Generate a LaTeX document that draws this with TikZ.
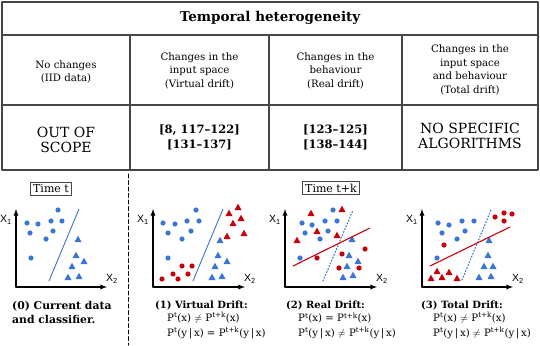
\documentclass[tikz,border=0pt]{standalone}
\usepackage{fontspec}
\setmainfont{DejaVu Serif}
\setsansfont{Liberation Sans}
\usetikzlibrary{positioning}
\definecolor{ptblue}{RGB}{58,118,214}
\definecolor{ptred}{RGB}{200,0,12}
\definecolor{rule}{RGB}{70,70,70}
\begin{document}
\begin{tikzpicture}[x=1pt,y=-1pt,>=latex,line join=round,line cap=round,
	every node/.style={inner sep=0pt},
	cell/.style={align=center,font=\fontsize{10.2}{13.5}\selectfont},
	big/.style={align=center,font=\fontsize{14}{15}\selectfont},
	refs/.style={align=center,font=\fontsize{11.5}{15}\selectfont\bfseries},
	timebox/.style={draw=rule,line width=0.6pt,inner sep=2.5pt,font=\fontsize{11}{12}\selectfont},
	caption/.style={anchor=west,font=\fontsize{10}{14}\selectfont\bfseries,align=left},
	formula/.style={anchor=west,font=\fontsize{10.2}{12}\selectfont},
	axis/.style={->,line width=1.3pt},
	axlabel/.style={font=\fontsize{10.5}{12}\selectfont\sffamily}]
	\useasboundingbox (0,0) rectangle (540,345);
	% table
	\draw[rule,line width=1.3pt] (2,2) rectangle (538,170);
	\draw[rule,line width=1.1pt] (2,35) -- (538,35) (2,105) -- (538,105);
	\foreach \cx in {130,269,402} \draw[rule,line width=1.1pt] (\cx,35) -- (\cx,170);
	\node[font=\fontsize{13.5}{14}\selectfont\bfseries] (title) at (270,18) {Temporal heterogeneity};
	\node[cell] (nochange) at (66,72) {No changes\\(IID data)};
	\node[cell] (virtual) at (199.5,70.5) {Changes in the\\input space\\(Virtual drift)};
	\node[cell] (real) at (335.5,70.5) {Changes in the\\behaviour\\(Real drift)};
	\node[cell] (total) at (470,70) {Changes in the\\input space\\and behaviour\\(Total drift)};
	\node[big] (scope) at (66,139.5) {OUT OF\\SCOPE};
	\node[refs] (refsA) at (199.5,137.5) {[8, 117--122]\\{}[131--137]};
	\node[refs] (refsB) at (335.5,137.5) {[123--125]\\{}[138--144]};
	\node[big] (nospec) at (470,135.5) {NO SPECIFIC\\ALGORITHMS};
	% time labels and separator
	\node[timebox] (timeA) at (51,189) {Time t};
	\node[timebox] (timeB) at (331,188) {Time t+k};
	\draw[line width=1pt,dash pattern=on 4pt off 2.5pt] (128,174) -- (128,345);
	% axes
	\foreach \ox/\rx in {16/107,153/245,285/377,422/513}{
		\draw[axis] (\ox,287) -- (\ox,209);
		\draw[axis] (\ox,287) -- (\rx,287);
		\node[axlabel] at (\ox-10,220) {X\textsubscript{1}};
		\node[axlabel] at (\rx+5,279) {X\textsubscript{2}};
	}
	% (0) current data
	\foreach \px/\py in {27/223,38/224,51/221,62/221,58/210,30/233,53/231,46/239,31/258}
		\fill[ptblue] (\px,\py) circle (2.6);
	\foreach \px/\py in {78/239,76/255,84/261,72/266,68/277,79/276}
		\fill[ptblue] (\px,\py) ++(-3.5,3) -- ++(7,0) -- ++(-3.5,-6.3) -- cycle;
	\draw[ptblue,line width=0.9pt] (49,281) -- (79,209);
	% (1) virtual drift
	\foreach \px/\py in {163/223,175/224,187/221,199/221,196/210,168/233,191/231,182/239,168/258}
		\fill[ptblue] (\px,\py) circle (2.6);
	\foreach \px/\py in {162/279,173/274,178/279,182/266,192/266,188/274}
		\fill[ptred] (\px,\py) circle (2.6);
	\foreach \px/\py in {220/240,218/255,227/261,215/266,212/277,222/276}
		\fill[ptblue] (\px,\py) ++(-3.5,3) -- ++(7,0) -- ++(-3.5,-6.3) -- cycle;
	\foreach \px/\py in {229/213,238/207,233/223,241/218,227/236,244/233}
		\fill[ptred] (\px,\py) ++(-3.5,3) -- ++(7,0) -- ++(-3.5,-6.3) -- cycle;
	\draw[ptblue,line width=0.9pt] (193,281) -- (223,209);
	% (2) real drift
	\foreach \px/\py in {302/223,312/225,325/221,337/221,333/210,305/233,328/231,320/239,300/258}
		\fill[ptblue] (\px,\py) circle (2.6);
	\foreach \px/\py in {317/258,342/254,365/249,339/268,359/268}
		\fill[ptred] (\px,\py) circle (2.6);
	\foreach \px/\py in {311/213,342/209,317/231,297/240,337/235}
		\fill[ptred] (\px,\py) ++(-3.5,3) -- ++(7,0) -- ++(-3.5,-6.3) -- cycle;
	\foreach \px/\py in {352/239,349/255,358/261,347/266,343/277,353/275}
		\fill[ptblue] (\px,\py) ++(-3.5,3) -- ++(7,0) -- ++(-3.5,-6.3) -- cycle;
	\draw[ptblue,line width=1.1pt,dotted] (323,281) -- (353,210);
	\draw[ptred,line width=1.1pt] (293,266) -- (370,228);
	% (3) total drift
	\foreach \px/\py in {438/223,449/225,462/221,474/221,442/233,465/231,457/239,437/258}
		\fill[ptblue] (\px,\py) circle (2.6);
	\foreach \px/\py in {495/217,504/213,512/214,504/221,444/245}
		\fill[ptred] (\px,\py) circle (2.6);
	\foreach \px/\py in {437/271,431/278,442/277,449/272,457/278}
		\fill[ptred] (\px,\py) ++(-3.5,3) -- ++(7,0) -- ++(-3.5,-6.3) -- cycle;
	\foreach \px/\py in {489/240,488/255,484/266,493/266,479/277,491/276}
		\fill[ptblue] (\px,\py) ++(-3.5,3) -- ++(7,0) -- ++(-3.5,-6.3) -- cycle;
	\draw[ptblue,line width=1.1pt,dotted] (462,280) -- (491,210);
	\draw[ptred,line width=1.1pt] (430,266) -- (510,227);
	% captions
	\node[caption,font=\fontsize{10.8}{14}\selectfont\bfseries] (capA) at (12,312) {(0) Current data\\and classifier.};
	\node[caption] (capB) at (155,305) {(1) Virtual Drift:};
	\node[formula] (fB1) at (167,318) {P\textsuperscript{t}(x) $\neq$ P\textsuperscript{t+k}(x)};
	\node[formula] (fB2) at (167,333) {P\textsuperscript{t}(y\,|\,x) = P\textsuperscript{t+k}(y\,|\,x)};
	\node[caption] (capC) at (286,305) {(2) Real Drift:};
	\node[formula] (fC1) at (298,318) {P\textsuperscript{t}(x) = P\textsuperscript{t+k}(x)};
	\node[formula] (fC2) at (298,333) {P\textsuperscript{t}(y\,|\,x) $\neq$ P\textsuperscript{t+k}(y\,|\,x)};
	\node[caption] (capD) at (421,305) {(3) Total Drift:};
	\node[formula] (fD1) at (433,318) {P\textsuperscript{t}(x) $\neq$ P\textsuperscript{t+k}(x)};
	\node[formula] (fD2) at (433,333) {P\textsuperscript{t}(y\,|\,x) $\neq$ P\textsuperscript{t+k}(y\,|\,x)};
\end{tikzpicture}
\end{document}
